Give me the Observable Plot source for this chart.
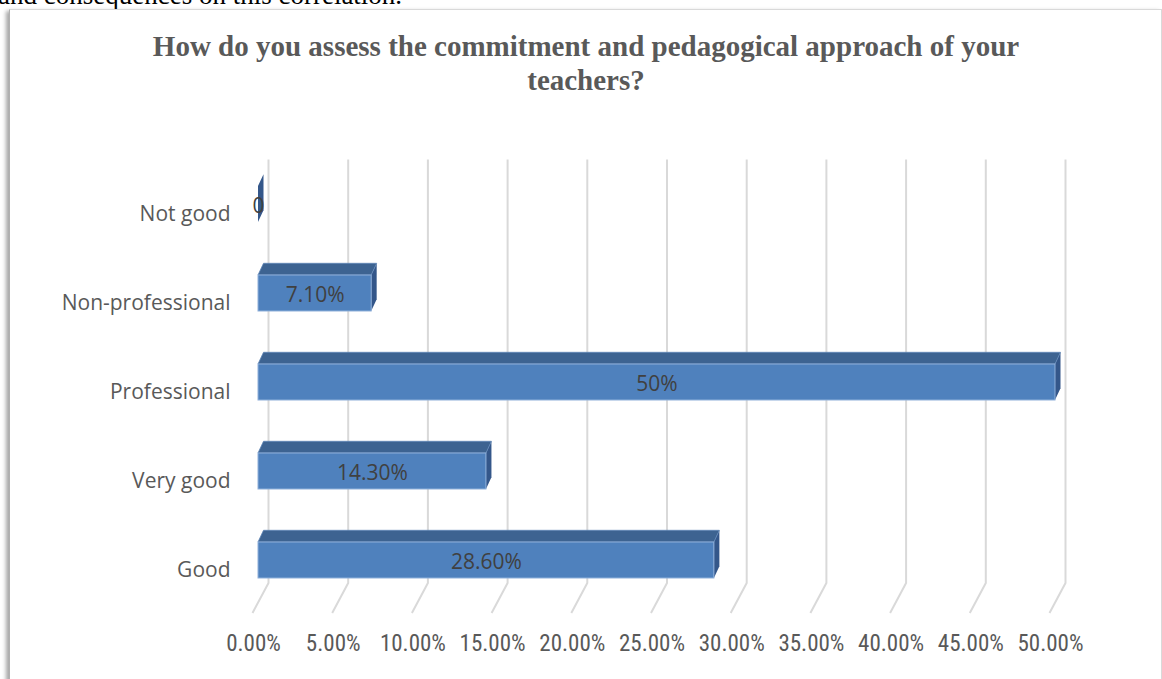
<!DOCTYPE html>
<html><head><meta charset="utf-8">
<script src="https://cdn.jsdelivr.net/npm/d3@7"></script>
<script src="https://cdn.jsdelivr.net/npm/@observablehq/plot@0.6"></script>
<style>
html,body{margin:0;padding:0;background:#fff;}
#wrap{position:relative;width:1162px;height:679px;overflow:hidden;background:#fff;}
#above{position:absolute;left:-2px;top:-20px;font:27px "Liberation Serif","Times New Roman",serif;color:#000;white-space:nowrap;}
#frame{position:absolute;left:9px;top:9px;width:1151px;height:720px;border:1px solid #d9d9d9;border-left:1px solid #b0b0b0;box-shadow:-3px 2px 4px rgba(0,0,0,0.35);background:#fff;}
#title{position:absolute;left:0;width:1172px;top:29px;text-align:center;font:bold 29px/34px "Liberation Serif","Times New Roman",serif;color:#595959;}
#chart{position:absolute;left:0;top:0;}
#chart svg{overflow:visible;}
</style>
</head><body>
<div id="wrap">
  <div id="above">and consequences on this correlation.</div>
  <div id="frame"></div>
  <div id="title">How do you assess the commitment and pedagogical approach of your<br>teachers?</div>
  <div id="chart"></div>
</div>
<script>
const categories = ["Not good", "Non-professional", "Professional", "Very good", "Good"];
const values = [0, 7.1, 50, 14.3, 28.6];
const valueLabels = ["0", "7.10%", "50%", "14.30%", "28.60%"];
const xTicks = [0, 5, 10, 15, 20, 25, 30, 35, 40, 45, 50];
const xTickLabels = ["0.00%", "5.00%", "10.00%", "15.00%", "20.00%", "25.00%", "30.00%", "35.00%", "40.00%", "45.00%", "50.00%"];

const rows = categories.map((c, i) => ({category: c, value: values[i], label: valueLabels[i]}));

const DX = 5.5, DY = -11.7;

function gridRender(index, scales, vals, dims) {
  const {marginTop, marginBottom, height} = dims;
  const yb = height - marginBottom;
  const g = d3.create("svg:g");
  g.selectAll("path").data(Array.from(index)).join("path")
    .attr("d", i => {
      const x = vals.x[i];
      return `M${x + 10.5},${marginTop}V${yb - 21.5}L${x - 5.5},${yb + 8.5}`;
    })
    .attr("fill", "none").attr("stroke", "#d9d9d9").attr("stroke-width", 2);
  return g.node();
}

function barRender(index, scales, vals, dims) {
  const g = d3.create("svg:g");
  const bw = typeof scales.y.bandwidth === "function" ? scales.y.bandwidth() : 36;
  for (const i of index) {
    const x1 = Math.min(vals.x1[i], vals.x2[i]);
    const x2 = Math.max(vals.x1[i], vals.x2[i]);
    const y = vals.y[i];
    g.append("path")
      .attr("d", `M${x2},${y}L${x2 + DX},${y + DY}L${x2 + DX},${y + DY + bw}L${x2},${y + bw}Z`)
      .attr("fill", "#34578a");
    if (x2 - x1 > 0.5) {
      g.append("path")
        .attr("d", `M${x1},${y}L${x2},${y}L${x2 + DX},${y + DY}L${x1 + DX},${y + DY}Z`)
        .attr("fill", "#3d6391").attr("stroke", "#5f86b8").attr("stroke-width", 0.8);
      g.append("rect")
        .attr("x", x1).attr("y", y).attr("width", x2 - x1).attr("height", bw)
        .attr("fill", "#4f81bd").attr("stroke", "#8fb0da").attr("stroke-width", 1);
    }
  }
  return g.node();
}

const chart = Plot.plot({
  width: 1162,
  height: 679,
  marginLeft: 258,
  marginRight: 107,
  marginTop: 159.5,
  marginBottom: 74.5,
  style: {background: "transparent", overflow: "visible"},
  x: {domain: [0, 50]},
  y: {domain: categories, paddingInner: 0.596, paddingOuter: 0.298},
  marks: [
    Plot.ruleX(xTicks, {x: d => d, render: gridRender}),
    Plot.barX(rows, {x: "value", y: "category", render: barRender}),
    Plot.text(rows, {
      x: d => d.value / 2,
      y: "category",
      text: "label",
      dy: 2,
      fill: "#404040",
      fontSize: 21,
      fontFamily: "Open Sans, sans-serif"
    }),
    Plot.axisX({
      ticks: xTicks,
      tickFormat: d => xTickLabels[xTicks.indexOf(d)],
      tickSize: 0,
      tickPadding: 30,
      dx: -5,
      label: null,
      fontSize: 23,
      fontFamily: "Liberation Sans Narrow, Roboto Condensed, Roboto, sans-serif",
      fill: "#595959"
    }),
    Plot.axisY({
      tickSize: 0,
      tickPadding: 28,
      dy: 10,
      label: null,
      fontSize: 21,
      fontFamily: "Open Sans, sans-serif",
      fill: "#595959"
    })
  ]
});
document.getElementById("chart").appendChild(chart);
</script>
</body></html>
